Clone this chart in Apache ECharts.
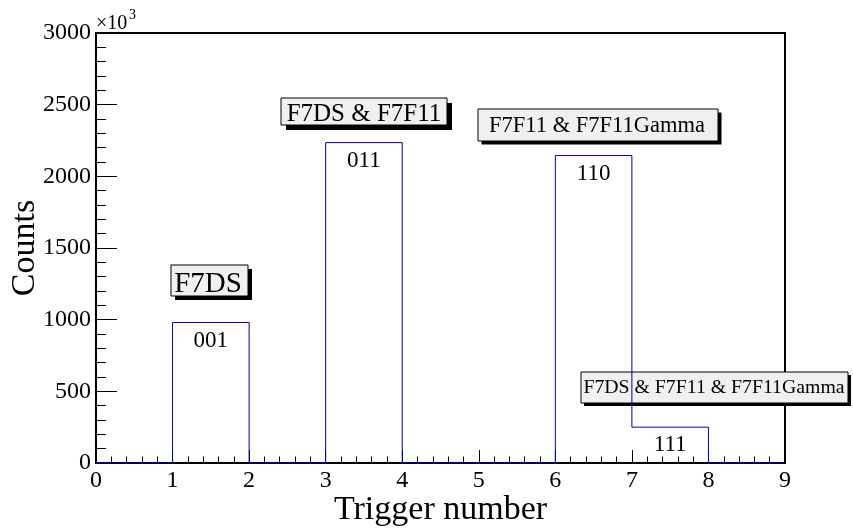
<!DOCTYPE html>
<html>
<head>
<meta charset="utf-8">
<script src="https://cdn.jsdelivr.net/npm/echarts@6/dist/echarts.min.js"></script>
<style>
  html, body { margin: 0; padding: 0; background: #fff; }
  #chart { width: 853px; height: 530px; }
</style>
</head>
<body>
<div id="chart"></div>
<script>
// Histogram of trigger numbers (counts in units of 10^3)
const binEdges = [0, 1, 2, 3, 4, 5, 6, 7, 8, 9];
const binCounts = [0, 980, 0, 2235, 0, 0, 2145, 250, 0];
const binCodes = ['', '001', '', '011', '', '', '110', '111', ''];
const triggerNames = ['F7DS', 'F7DS & F7F11', 'F7F11 & F7F11Gamma', 'F7DS & F7F11 & F7F11Gamma'];
const xTickValues = [0, 1, 2, 3, 4, 5, 6, 7, 8, 9];
const yTickValues = [0, 500, 1000, 1500, 2000, 2500, 3000];

const FONT = '"Liberation Serif", "Times New Roman", serif';
const LINE_BLUE = '#000099';

// step outline: value of each bin held from its lower edge to the next edge
const stepPoints = binEdges.map((e, i) => [e, binCounts[Math.min(i, binCounts.length - 1)]]);

// bin code labels sit just under the top of their bin
const codeItems = [];
binCodes.forEach((c, i) => {
  if (c) codeItems.push({ value: [(binEdges[i] + binEdges[i + 1]) / 2, binCounts[i]], code: c });
});

// boxed trigger descriptions (pixel layout)
const paveLayout = [
  { x0: 171, y0: 265, x1: 248, y1: 296, cx: 208, cy: 284, size: 29, sh: 4 },
  { x0: 281, y0: 98, x1: 447, y1: 125, cx: 364, cy: 114, size: 25, sh: 5 },
  { x0: 478, y0: 109, x1: 718, y1: 141, cx: 597, cy: 126, size: 22.5, sh: 3.5 },
  { x0: 581, y0: 372, x1: 848, y1: 403, cx: 714, cy: 388, size: 19.8, sh: 3 }
];

const paveGraphics = triggerNames.map((name, i) => {
  const L = paveLayout[i];
  const w = L.x1 - L.x0, h = L.y1 - L.y0;
  return {
    type: 'group',
    z: 100,
    children: [
      { type: 'rect', shape: { x: L.x0 + L.sh, y: L.y0 + L.sh, width: w, height: h },
        style: { fill: '#000' } },
      { type: 'rect', shape: { x: L.x0, y: L.y0, width: w, height: h },
        style: { fill: '#f0f0f0', stroke: '#000', lineWidth: 1 } },
      { type: 'text', x: L.cx, y: L.cy,
        style: { text: name, fill: '#000', font: L.size + 'px ' + FONT,
                 align: 'center', verticalAlign: 'middle' } }
    ]
  };
});

const chart = echarts.init(document.getElementById('chart'), null, { renderer: 'canvas' });

chart.setOption({
  animation: false,
  backgroundColor: '#fff',
  grid: {
    left: 96, right: 68, top: 33, bottom: 67,
    containLabel: false,
    outerBoundsMode: 'none',
    show: true, borderColor: '#000', borderWidth: 2, backgroundColor: 'transparent'
  },
  xAxis: {
    type: 'value',
    min: xTickValues[0],
    max: xTickValues[xTickValues.length - 1],
    interval: 1,
    name: 'Trigger number',
    nameLocation: 'middle',
    nameGap: 30,
    nameMoveOverlap: false,
    nameTextStyle: { fontFamily: FONT, fontSize: 34, color: '#000' },
    axisLine: { show: true, lineStyle: { color: '#000', width: 2 } },
    axisTick: { show: true, inside: true, length: 13, lineStyle: { color: '#000', width: 1 } },
    minorTick: { show: true, splitNumber: 5, length: 6.5, lineStyle: { color: '#000', width: 1 } },
    axisLabel: { fontFamily: FONT, fontSize: 24, color: '#000', margin: 6, formatter: v => String(v) },
    splitLine: { show: false }
  },
  yAxis: {
    type: 'value',
    min: yTickValues[0],
    max: yTickValues[yTickValues.length - 1],
    interval: 500,
    name: 'Counts',
    nameLocation: 'middle',
    nameGap: 54,
    nameRotate: 90,
    nameMoveOverlap: false,
    nameTextStyle: { fontFamily: FONT, fontSize: 34, color: '#000' },
    axisLine: { show: true, lineStyle: { color: '#000', width: 2 } },
    axisTick: { show: true, inside: true, length: 21, lineStyle: { color: '#000', width: 1 } },
    minorTick: { show: true, splitNumber: 5, length: 10, lineStyle: { color: '#000', width: 1 } },
    axisLabel: { fontFamily: FONT, fontSize: 24, color: '#000', margin: 5, formatter: v => String(v) },
    splitLine: { show: false }
  },
  graphic: [
    { type: 'text', x: 96, y: 24, z: 100,
      style: { text: '×10', font: '20px ' + FONT, fill: '#000', align: 'left', verticalAlign: 'middle' } },
    { type: 'text', x: 129, y: 15, z: 100,
      style: { text: '3', font: '14px ' + FONT, fill: '#000', align: 'left', verticalAlign: 'middle' } }
  ].concat(paveGraphics),
  series: [
    {
      type: 'line',
      step: 'end',
      data: stepPoints,
      symbol: 'none',
      clip: false,
      lineStyle: { color: LINE_BLUE, width: 1 },
      z: 3
    },
    {
      type: 'custom',
      data: codeItems,
      z: 4,
      renderItem: (params, api) => {
        const p = api.coord([api.value(0), api.value(1)]);
        return {
          type: 'text',
          x: p[0],
          y: p[1] + 18,
          style: {
            text: codeItems[params.dataIndex].code,
            font: '23px ' + FONT,
            fill: '#000',
            align: 'center',
            verticalAlign: 'middle'
          }
        };
      }
    }
  ]
});
</script>
</body>
</html>
